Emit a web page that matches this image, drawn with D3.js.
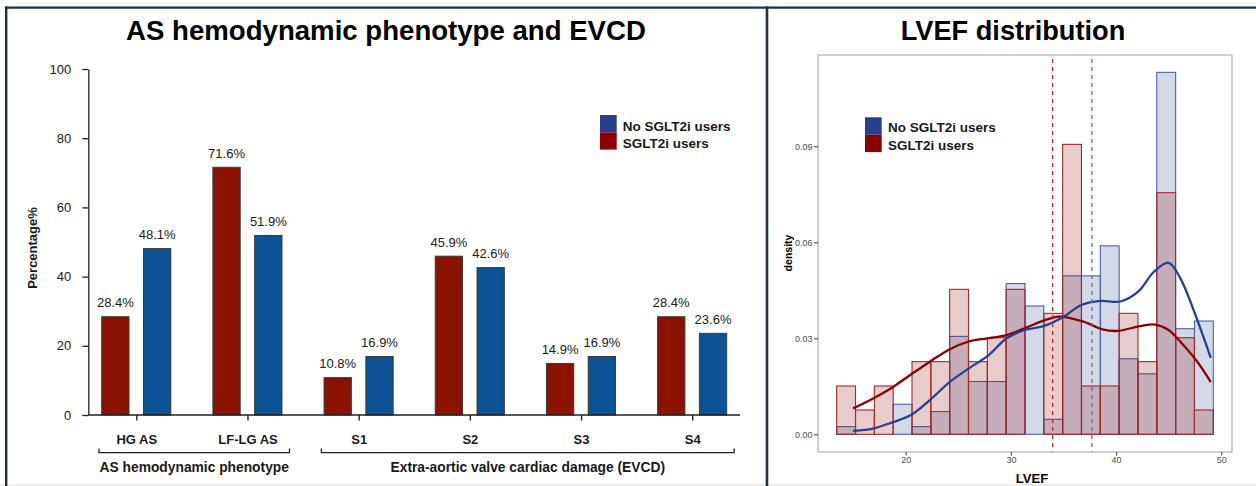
<!DOCTYPE html>
<html>
<head>
<meta charset="utf-8">
<script src="https://cdn.jsdelivr.net/npm/d3@7/dist/d3.min.js"></script>
<style>
  html, body { margin: 0; padding: 0; background: #fff; }
  svg { display: block; font-family: "Liberation Sans", Arial, Helvetica, sans-serif; }
</style>
</head>
<body>
<svg id="chart" width="1256" height="486"></svg>
<script>
// ---------------- DATA ----------------
// Left panel: grouped bars
const categories = ["HG AS", "LF-LG AS", "S1", "S2", "S3", "S4"];
const sglt2iUsers = [28.4, 71.6, 10.8, 45.9, 14.9, 28.4];
const noSglt2iUsers = [48.1, 51.9, 16.9, 42.6, 16.9, 23.6];
const barYTicks = [0, 20, 40, 60, 80, 100];
const groups = [
  { label: "AS hemodynamic phenotype", first: "HG AS", last: "LF-LG AS" },
  { label: "Extra-aortic valve cardiac damage (EVCD)", first: "S1", last: "S4" }
];
const seriesNames = ["No SGLT2i users", "SGLT2i users"];

// Right panel: LVEF histogram (density) + density curves
const binEdges = [13.44, 15.23, 17.02, 18.81, 20.60, 22.39, 24.18, 25.97, 27.76, 29.55,
                  31.34, 33.13, 34.92, 36.71, 38.50, 40.29, 42.08, 43.87, 45.66, 47.45, 49.24];
const histSglt2i = [0.0151, 0.0076, 0.0151, 0, 0.0227, 0.0227, 0.0453, 0.0227, 0.0302, 0.0453,
                    0, 0.0378, 0.0906, 0.0151, 0.0151, 0.0378, 0.0227, 0.0755, 0.0302, 0.0076];
const histNoSglt2i = [0.0024, 0, 0, 0.0094, 0.0024, 0.0071, 0.0306, 0.0165, 0.0165, 0.0471,
                      0.0401, 0.0047, 0.0495, 0.0495, 0.0589, 0.0236, 0.0189, 0.1131, 0.0330, 0.0354];
const densX_sglt2i = [15.0, 16.9, 18.8, 20.5, 22.3, 24.2, 26.0, 27.8, 29.6, 31.3, 33.1, 34.6, 36.9, 38.7, 40.1, 42.3, 43.7, 45.0, 45.8, 47.6, 49.0];
const densY_sglt2i = [0.0081, 0.0112, 0.0148, 0.0187, 0.0227, 0.0266, 0.0290, 0.0300, 0.0310, 0.0331, 0.0355, 0.0368, 0.0352, 0.0328, 0.0323, 0.0338, 0.0343, 0.0326, 0.0300, 0.0232, 0.0163];
const densX_noSglt2i = [15.0, 16.9, 18.8, 20.5, 22.3, 24.2, 26.0, 27.8, 29.6, 31.3, 33.1, 34.9, 36.7, 38.5, 40.4, 42.1, 43.6, 45.0, 46.1, 47.6, 49.0];
const densY_noSglt2i = [0.0011, 0.0018, 0.0038, 0.0060, 0.0107, 0.0164, 0.0206, 0.0245, 0.0300, 0.0326, 0.0338, 0.0365, 0.0404, 0.0417, 0.0415, 0.0446, 0.0508, 0.0536, 0.0488, 0.0368, 0.0239];
const meanSglt2i = 33.97;
const meanNoSglt2i = 37.7;
const densYTicks = [0, 0.03, 0.06, 0.09];
const lvefXTicks = [20, 30, 40, 50];

// ---------------- STYLE ----------------
const C = {
  frame: "#1b3344",
  barRed: "#8c1200",
  barBlue: "#0b5394",
  barStroke: "#3a3a3a",
  legBlue: "#27408B",
  legRed: "#8B0000",
  text: "#1a1a1a"
};

const svg = d3.select("#chart");

// frame
svg.append("rect").attr("x", 0).attr("y", 0).attr("width", 1256).attr("height", 486).attr("fill", "#fff");
svg.append("rect").attr("x", 0).attr("y", 484).attr("width", 1256).attr("height", 2).attr("fill", "#ececec");
svg.append("line").attr("x1", 6.2).attr("x2", 6.2).attr("y1", 6.5).attr("y2", 486).attr("stroke", C.frame).attr("stroke-width", 2.4);
svg.append("line").attr("x1", 5).attr("x2", 1256).attr("y1", 7.7).attr("y2", 7.7).attr("stroke", C.frame).attr("stroke-width", 2.2);
svg.append("line").attr("x1", 767).attr("x2", 767).attr("y1", 6.5).attr("y2", 486).attr("stroke", C.frame).attr("stroke-width", 2.6);

// ============ LEFT PANEL ============
svg.append("text").attr("x", 386).attr("y", 39.5).attr("text-anchor", "middle")
  .attr("font-size", 27.6).attr("font-weight", "bold").attr("fill", "#000")
  .text("AS hemodynamic phenotype and EVCD");

const yB = d3.scaleLinear().domain([0, 100]).range([415, 69]);
const xB = d3.scalePoint().domain(categories).range([88.5, 740]).padding(0.43);

const gL = svg.append("g");

// y axis
const yAxisB = gL.append("g").attr("transform", "translate(88.3,0)")
  .call(d3.axisLeft(yB).tickValues(barYTicks).tickSize(6).tickSizeOuter(0).tickPadding(11));
yAxisB.select(".domain").attr("stroke", "#222").attr("stroke-width", 1.3);
yAxisB.selectAll(".tick line").attr("stroke", "#222").attr("stroke-width", 1.3);
yAxisB.selectAll(".tick text").attr("font-size", 13).attr("fill", C.text)
  .attr("font-family", "'Liberation Sans', Arial, sans-serif");

// y title
gL.append("text").attr("transform", "translate(37,248) rotate(-90)")
  .attr("text-anchor", "middle").attr("font-size", 13).attr("font-weight", "bold").attr("fill", C.text)
  .text("Percentage%");

// bars
const barW = 27.3;
const rows = categories.map((c, i) => ({ c, red: sglt2iUsers[i], blue: noSglt2iUsers[i] }));
const gBars = gL.append("g");
rows.forEach(r => {
  const cx = xB(r.c);
  [[r.red, cx - 34.6, C.barRed], [r.blue, cx + 7.2, C.barBlue]].forEach(([v, x0, col]) => {
    gBars.append("rect").attr("x", x0).attr("y", yB(v)).attr("width", barW).attr("height", yB(0) - yB(v))
      .attr("fill", col).attr("stroke", C.barStroke).attr("stroke-width", 1);
    gBars.append("text").attr("x", x0 + barW / 2).attr("y", yB(v) - 9.5).attr("text-anchor", "middle")
      .attr("font-size", 13).attr("fill", C.text).text(v.toFixed(1) + "%");
  });
});

// x axis
const xAxisB = gL.append("g").attr("transform", "translate(0,415)")
  .call(d3.axisBottom(xB).tickSize(5.5).tickSizeOuter(0).tickPadding(14.5));
xAxisB.select(".domain").attr("d", "M88.3,0H740").attr("stroke", "#222").attr("stroke-width", 1.4);
xAxisB.selectAll(".tick line").attr("stroke", "#222").attr("stroke-width", 1.4);
xAxisB.selectAll(".tick text").attr("font-size", 13).attr("font-weight", "bold").attr("fill", C.text)
  .attr("font-family", "'Liberation Sans', Arial, sans-serif");

// group brackets
groups.forEach(g => {
  const x0 = xB(g.first) - 37.3, x1 = xB(g.last) + 42;
  gL.append("path").attr("d", `M${x0},448.5V452.7H${x1}V448.5`).attr("fill", "none")
    .attr("stroke", "#222").attr("stroke-width", 1.3);
  gL.append("text").attr("x", (x0 + x1) / 2).attr("y", 472).attr("text-anchor", "middle")
    .attr("font-size", 13.8).attr("font-weight", "bold").attr("fill", C.text).text(g.label);
});

// legend (left)
const legL = gL.append("g");
[[C.legBlue, 115], [C.legRed, 132.3]].forEach(([col, y], i) => {
  legL.append("rect").attr("x", 600).attr("y", y).attr("width", 16.7).attr("height", 17.3).attr("fill", col);
  legL.append("text").attr("x", 622.7).attr("y", y + 15.7).attr("font-size", 13.5).attr("font-weight", "bold")
    .attr("fill", C.text).text(seriesNames[i]);
});

// ============ RIGHT PANEL ============
svg.append("text").attr("x", 1013).attr("y", 39.5).attr("text-anchor", "middle")
  .attr("font-size", 27.2).attr("font-weight", "bold").attr("fill", "#000")
  .text("LVEF distribution");

const P = { l: 818, r: 1232, t: 55, b: 452 };
const xH = d3.scaleLinear().domain([11.663, 51.02]).range([P.l, P.r]);
const yH = d3.scaleLinear().domain([-0.00553, 0.11853]).range([P.b, P.t]);
const gR = svg.append("g");

const binsBlue = histNoSglt2i.map((d, i) => ({ x0: binEdges[i], x1: binEdges[i + 1], d }));
const binsRed = histSglt2i.map((d, i) => ({ x0: binEdges[i], x1: binEdges[i + 1], d }));

gR.append("g").selectAll("rect").data(binsBlue.filter(b => b.d > 0)).join("rect")
  .attr("x", b => xH(b.x0)).attr("y", b => yH(b.d)).attr("width", b => xH(b.x1) - xH(b.x0))
  .attr("height", b => yH(0) - yH(b.d))
  .attr("fill", "rgba(39,64,139,0.2)").attr("stroke", "#4a63a8").attr("stroke-width", 1.1);
gR.append("g").selectAll("rect").data(binsRed.filter(b => b.d > 0)).join("rect")
  .attr("x", b => xH(b.x0)).attr("y", b => yH(b.d)).attr("width", b => xH(b.x1) - xH(b.x0))
  .attr("height", b => yH(0) - yH(b.d))
  .attr("fill", "rgba(139,0,0,0.2)").attr("stroke", "#a12a2a").attr("stroke-width", 1.1);

// density curves
const line = d3.line().x(d => xH(d[0])).y(d => yH(d[1])).curve(d3.curveCatmullRom.alpha(0.5));
gR.append("path").datum(densX_sglt2i.map((x, i) => [x, densY_sglt2i[i]]))
  .attr("d", line).attr("fill", "none").attr("stroke", "#8B0000").attr("stroke-width", 2.3);
gR.append("path").datum(densX_noSglt2i.map((x, i) => [x, densY_noSglt2i[i]]))
  .attr("d", line).attr("fill", "none").attr("stroke", "#27408B").attr("stroke-width", 2.3);

// mean lines
[[meanSglt2i, "#b52a2a"], [meanNoSglt2i, "#5d70b8"]].forEach(([m, col]) => {
  gR.append("line").attr("x1", xH(m)).attr("x2", xH(m)).attr("y1", P.t + 4).attr("y2", P.b)
    .attr("stroke", col).attr("stroke-width", 1.3).attr("stroke-dasharray", "4,4");
});

// panel border
gR.append("rect").attr("x", P.l).attr("y", P.t).attr("width", P.r - P.l).attr("height", P.b - P.t)
  .attr("fill", "none").attr("stroke", "#b0b0b0").attr("stroke-width", 1.2);

// axes
const yAxisH = gR.append("g").attr("transform", `translate(${P.l},0)`)
  .call(d3.axisLeft(yH).tickValues(densYTicks).tickFormat(d3.format(".2f")).tickSize(4).tickPadding(1.5));
yAxisH.select(".domain").remove();
yAxisH.selectAll(".tick line").attr("stroke", "#444");
yAxisH.selectAll(".tick text").attr("font-size", 9).attr("fill", "#4d4d4d")
  .attr("font-family", "'Liberation Sans', Arial, sans-serif");

const xAxisH = gR.append("g").attr("transform", `translate(0,${P.b})`)
  .call(d3.axisBottom(xH).tickValues(lvefXTicks).tickSize(3.5).tickPadding(1.5));
xAxisH.select(".domain").remove();
xAxisH.selectAll(".tick line").attr("stroke", "#444");
xAxisH.selectAll(".tick text").attr("font-size", 9).attr("fill", "#4d4d4d")
  .attr("font-family", "'Liberation Sans', Arial, sans-serif");

gR.append("text").attr("transform", "translate(792,253) rotate(-90)").attr("text-anchor", "middle")
  .attr("font-size", 10.5).attr("font-weight", "bold").attr("fill", "#000").text("density");
gR.append("text").attr("x", 1032).attr("y", 482.5).attr("text-anchor", "middle")
  .attr("font-size", 13).attr("font-weight", "bold").attr("fill", "#000").text("LVEF");

// legend (right)
[[C.legBlue, 117.3], [C.legRed, 134.7]].forEach(([col, y], i) => {
  gR.append("rect").attr("x", 865).attr("y", y).attr("width", 16.7).attr("height", 17.4).attr("fill", col);
  gR.append("text").attr("x", 888).attr("y", y + 14.8 + i * 0.6).attr("font-size", 13.5).attr("font-weight", "bold")
    .attr("fill", C.text).text(seriesNames[i]);
});
</script>
</body>
</html>
